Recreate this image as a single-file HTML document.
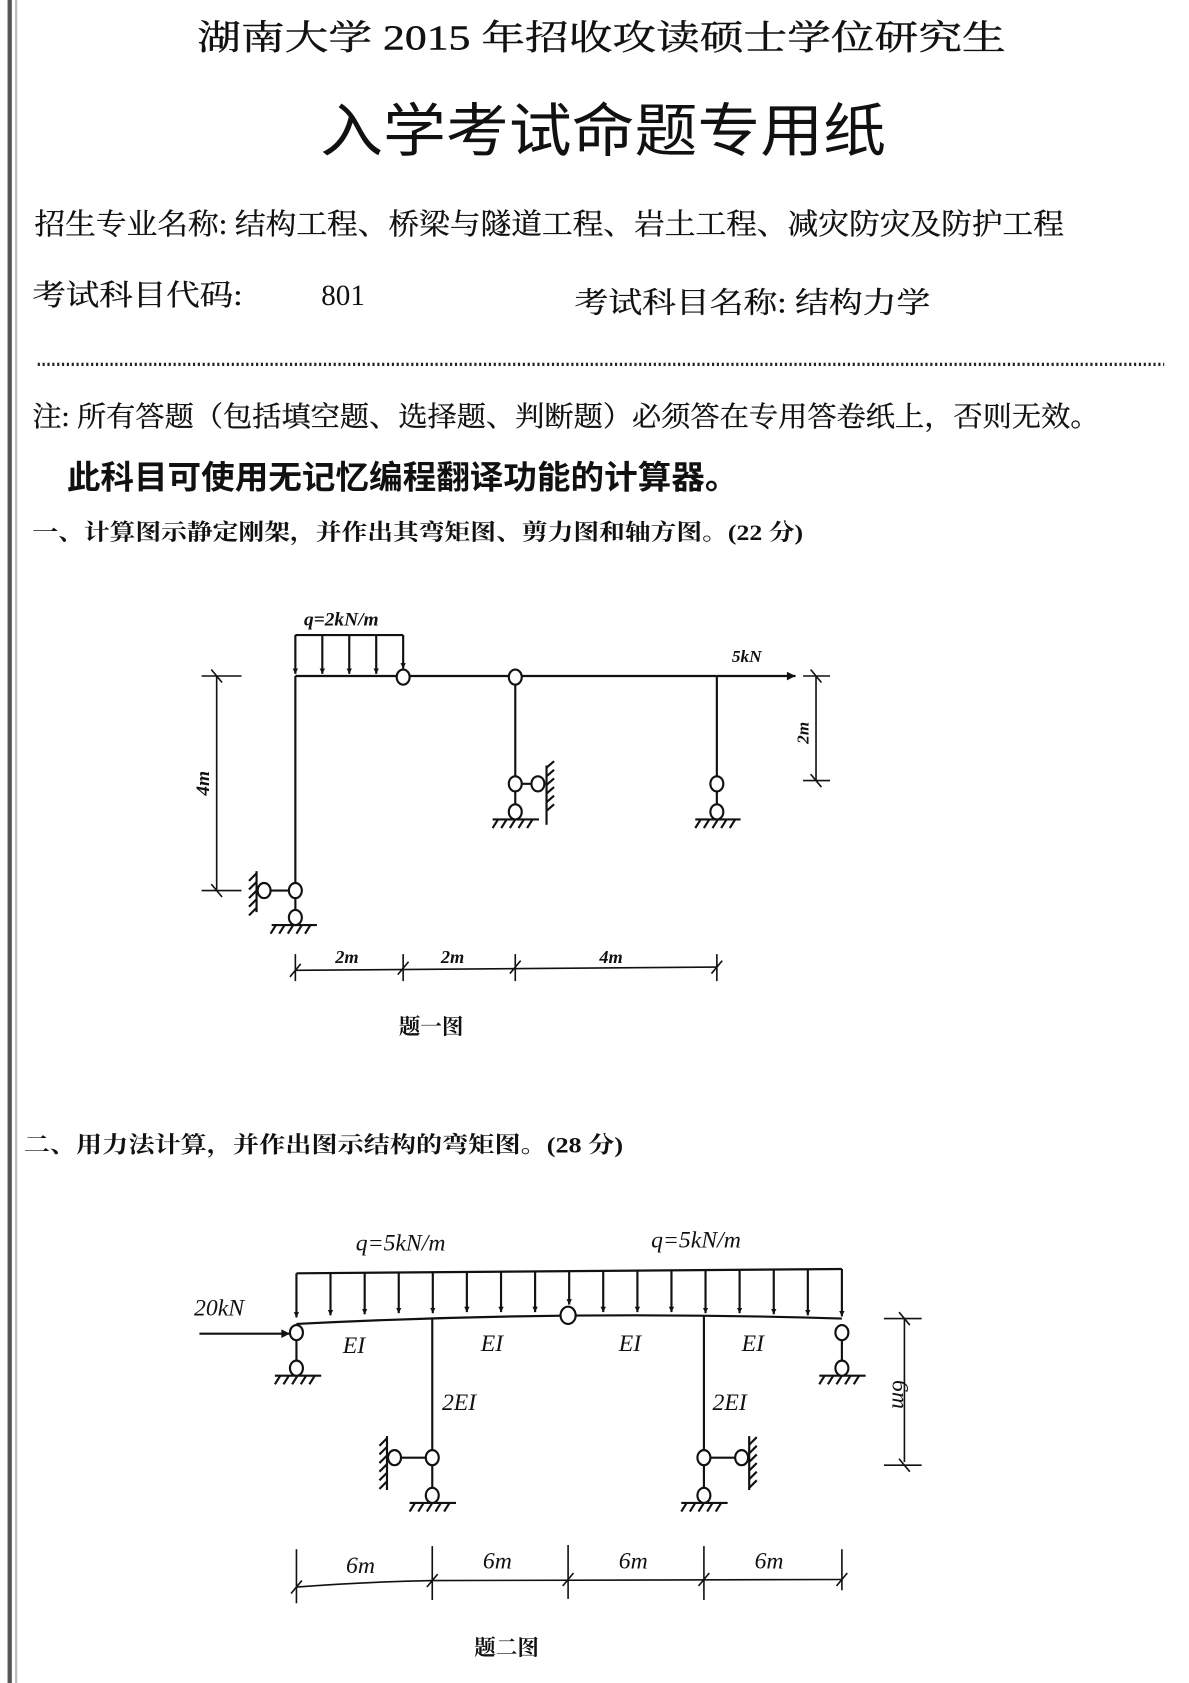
<!DOCTYPE html>
<html><head><meta charset="utf-8"><style>
html,body{margin:0;padding:0;background:#fff;}
svg{display:block;}
.cn{font-family:"Liberation Serif","Noto Serif CJK SC",serif;fill:#111;}
.cs{font-family:"Liberation Sans","Noto Sans CJK SC",sans-serif;fill:#111;}
.lb{font-family:"Liberation Serif",serif;font-style:italic;fill:#111;}
</style></head><body>
<svg width="1189" height="1683" viewBox="0 0 1103 1561" preserveAspectRatio="none" xmlns="http://www.w3.org/2000/svg">
<defs>
<marker id="ar" viewBox="0 0 10 10" refX="10" refY="5" markerWidth="5" markerHeight="8" orient="auto" markerUnits="userSpaceOnUse"><path d="M0,0 L10,5 L0,10 z" fill="#111"/></marker>
<marker id="ab" viewBox="0 0 10 10" refX="10" refY="5" markerWidth="14" markerHeight="8" orient="auto" markerUnits="userSpaceOnUse"><path d="M0,0 L10,5 L0,10 z" fill="#111"/></marker>
</defs>
<rect x="0" y="0" width="1103" height="1561" fill="#fff"/>
<line x1="9" y1="0" x2="9" y2="1561" stroke="#555" stroke-width="4"/>
<line x1="15" y1="0" x2="15" y2="1561" stroke="#bbb" stroke-width="2"/>

<text class="cn" x="183" y="46" font-size="32" textLength="750" lengthAdjust="spacingAndGlyphs" stroke="#111" stroke-width="0.4">湖南大学 2015 年招收攻读硕士学位研究生</text>
<text class="cs" x="297" y="140" font-size="54" textLength="525" lengthAdjust="spacingAndGlyphs">入学考试命题专用纸</text>
<text class="cn" x="32" y="217" font-size="27" textLength="955" lengthAdjust="spacingAndGlyphs" stroke="#111" stroke-width="0.3">招生专业名称: 结构工程、桥梁与隧道工程、岩土工程、减灾防灾及防护工程</text>
<text class="cn" x="30" y="283" font-size="27" textLength="195" lengthAdjust="spacingAndGlyphs" stroke="#111" stroke-width="0.3">考试科目代码:</text>
<text class="cn" x="298" y="283" font-size="27">801</text>
<text class="cn" x="533" y="290" font-size="27" textLength="330" lengthAdjust="spacingAndGlyphs" stroke="#111" stroke-width="0.3">考试科目名称: 结构力学</text>
<line x1="35" y1="338" x2="1080" y2="338" stroke="#222" stroke-width="3" stroke-dasharray="2,2.5"/>
<text class="cn" x="30" y="395" font-size="26" textLength="990" lengthAdjust="spacingAndGlyphs" stroke="#111" stroke-width="0.3">注: 所有答题（包括填空题、选择题、判断题）必须答在专用答卷纸上，否则无效。</text>
<text class="cs" x="62" y="453" font-size="30" font-weight="bold" textLength="623" lengthAdjust="spacingAndGlyphs">此科目可使用无记忆编程翻译功能的计算器。</text>
<text class="cn" x="30" y="501" font-size="21" font-weight="bold" textLength="715" lengthAdjust="spacingAndGlyphs">一、计算图示静定刚架，并作出其弯矩图、剪力图和轴方图。(22 分)</text>

<!-- Diagram 1 -->
<g stroke="#111" stroke-width="2" fill="none">
<line x1="274" y1="627" x2="665" y2="627"/>
<line x1="274" y1="627" x2="274" y2="819"/>
<line x1="478" y1="633" x2="478" y2="720"/>
<line x1="665" y1="627" x2="665" y2="720"/>
<line x1="274" y1="589" x2="374" y2="589"/>
<line x1="274" y1="589" x2="274" y2="625" marker-end="url(#ar)"/>
<line x1="299" y1="589" x2="299" y2="625" marker-end="url(#ar)"/>
<line x1="324" y1="589" x2="324" y2="625" marker-end="url(#ar)"/>
<line x1="349" y1="589" x2="349" y2="625" marker-end="url(#ar)"/>
<line x1="374" y1="589" x2="374" y2="620" marker-end="url(#ar)"/>
<line x1="665" y1="627" x2="738" y2="627" marker-end="url(#ab)"/>
<line x1="245" y1="826" x2="274" y2="826"/>
<line x1="274" y1="832" x2="274" y2="846"/>
<line x1="238" y1="808" x2="238" y2="846"/>
<path d="M238,810 l-7,7 M238,818 l-7,7 M238,826 l-7,7 M238,834 l-7,7 M238,842 l-7,7"/>
<line x1="252" y1="858" x2="294" y2="858"/>
<path d="M256,858 l-5,8 M264,858 l-5,8 M272,858 l-5,8 M280,858 l-5,8 M288,858 l-5,8"/>
<line x1="478" y1="727" x2="499" y2="727"/>
<line x1="478" y1="733" x2="478" y2="748"/>
<line x1="507" y1="710" x2="507" y2="765"/>
<path d="M507,712 l7,-6 M507,720 l7,-6 M507,728 l7,-6 M507,736 l7,-6 M507,744 l7,-6 M507,752 l7,-6"/>
<line x1="457" y1="760" x2="500" y2="760"/>
<path d="M462,760 l-5,8 M470,760 l-5,8 M478,760 l-5,8 M486,760 l-5,8 M494,760 l-5,8"/>
<line x1="665" y1="733" x2="665" y2="748"/>
<line x1="645" y1="760" x2="687" y2="760"/>
<path d="M650,760 l-5,8 M658,760 l-5,8 M666,760 l-5,8 M674,760 l-5,8 M682,760 l-5,8"/>
<line x1="201" y1="627" x2="201" y2="826" stroke-width="1.5"/>
<line x1="187" y1="627" x2="224" y2="627" stroke-width="1.5"/>
<line x1="187" y1="826" x2="224" y2="826" stroke-width="1.5"/>
<path d="M196,621 l10,12 M196,820 l10,12" stroke-width="1.5"/>
<line x1="757" y1="627" x2="757" y2="724" stroke-width="1.5"/>
<line x1="745" y1="627" x2="770" y2="627" stroke-width="1.5"/>
<line x1="745" y1="724" x2="770" y2="724" stroke-width="1.5"/>
<path d="M752,621 l10,12 M752,718 l10,12" stroke-width="1.5"/>
<line x1="274" y1="900" x2="665" y2="897" stroke-width="1.5"/>
<path d="M274,885 v25 M374,885 v25 M478,885 v25 M665,885 v25" stroke-width="1.5"/>
<path d="M269,906 l10,-12 M369,904 l10,-12 M473,903 l10,-12 M660,903 l10,-12" stroke-width="1.5"/>
</g>
<g stroke="#111" stroke-width="2" fill="#fff">
<ellipse cx="374" cy="628" rx="6" ry="7"/>
<ellipse cx="478" cy="628" rx="6" ry="7"/>
<ellipse cx="274" cy="826" rx="6" ry="7"/>
<ellipse cx="245" cy="826" rx="6" ry="7"/>
<ellipse cx="274" cy="851" rx="6" ry="7"/>
<ellipse cx="478" cy="727" rx="6" ry="7"/>
<ellipse cx="499" cy="727" rx="6" ry="7"/>
<ellipse cx="478" cy="753" rx="6" ry="7"/>
<ellipse cx="665" cy="727" rx="6" ry="7"/>
<ellipse cx="665" cy="753" rx="6" ry="7"/>
</g>
<text class="lb" x="282" y="580" font-size="18" font-weight="bold">q=2kN/m</text>
<text class="lb" x="679" y="614" font-size="16" font-weight="bold">5kN</text>
<text class="lb" x="0" y="0" font-size="18" font-weight="bold" transform="translate(194,738) rotate(-90)">4m</text>
<text class="lb" x="0" y="0" font-size="16" font-weight="bold" transform="translate(750,690) rotate(-90)">2m</text>
<text class="lb" x="311" y="893" font-size="17" font-weight="bold">2m</text>
<text class="lb" x="409" y="893" font-size="17" font-weight="bold">2m</text>
<text class="lb" x="556" y="893" font-size="17" font-weight="bold">4m</text>
<text class="cn" x="370" y="959" font-size="20" font-weight="bold">题一图</text>

<text class="cn" x="22" y="1069" font-size="21" font-weight="bold" textLength="556" lengthAdjust="spacingAndGlyphs">二、用力法计算，并作出图示结构的弯矩图。(28 分)</text>

<!-- Diagram 2 -->
<g stroke="#111" stroke-width="2" fill="none">
<path d="M275,1228 Q528,1215 781,1223"/>
<line x1="275" y1="1181" x2="781" y2="1177"/>
<line x1="401" y1="1222" x2="401" y2="1345"/>
<line x1="653" y1="1221" x2="653" y2="1345"/>
<line x1="185" y1="1237" x2="269" y2="1237" marker-end="url(#ab)"/>
<line x1="275" y1="1242" x2="275" y2="1262"/>
<line x1="781" y1="1243" x2="781" y2="1262"/>
<line x1="255" y1="1276" x2="298" y2="1276"/>
<path d="M260,1276 l-5,8 M268,1276 l-5,8 M276,1276 l-5,8 M284,1276 l-5,8 M292,1276 l-5,8"/>
<line x1="760" y1="1276" x2="803" y2="1276"/>
<path d="M765,1276 l-5,8 M773,1276 l-5,8 M781,1276 l-5,8 M789,1276 l-5,8 M797,1276 l-5,8"/>
<line x1="366" y1="1352" x2="401" y2="1352"/>
<line x1="401" y1="1359" x2="401" y2="1380"/>
<line x1="359" y1="1332" x2="359" y2="1382"/>
<path d="M359,1334 l-7,7 M359,1342 l-7,7 M359,1350 l-7,7 M359,1358 l-7,7 M359,1366 l-7,7 M359,1374 l-7,7"/>
<line x1="380" y1="1394" x2="423" y2="1394"/>
<path d="M385,1394 l-5,8 M393,1394 l-5,8 M401,1394 l-5,8 M409,1394 l-5,8 M417,1394 l-5,8"/>
<line x1="653" y1="1352" x2="688" y2="1352"/>
<line x1="653" y1="1359" x2="653" y2="1380"/>
<line x1="695" y1="1332" x2="695" y2="1382"/>
<path d="M695,1340 l7,-7 M695,1348 l7,-7 M695,1356 l7,-7 M695,1364 l7,-7 M695,1372 l7,-7 M695,1380 l7,-7"/>
<line x1="632" y1="1394" x2="675" y2="1394"/>
<path d="M637,1394 l-5,8 M645,1394 l-5,8 M653,1394 l-5,8 M661,1394 l-5,8 M669,1394 l-5,8"/>
<line x1="839" y1="1223" x2="839" y2="1356" stroke-width="1.5"/>
<line x1="820" y1="1223" x2="855" y2="1223" stroke-width="1.5"/>
<line x1="820" y1="1359" x2="855" y2="1359" stroke-width="1.5"/>
<path d="M834,1217 l10,12 M834,1353 l10,12" stroke-width="1.5"/>
<path d="M275,1472 Q340,1467 401,1466 L781,1465" stroke-width="1.5"/>
<path d="M275,1437 v50 M401,1434 v50 M527,1433 v50 M653,1434 v50 M781,1437 v38" stroke-width="1.5"/>
<path d="M270,1478 l10,-12 M396,1472 l10,-12 M522,1471 l10,-12 M648,1471 l10,-12 M776,1471 l10,-12" stroke-width="1.5"/>
</g>
<g stroke="#111" stroke-width="2">
<line x1="275" y1="1181" x2="275" y2="1222" marker-end="url(#ar)"/>
<line x1="306.6" y1="1181" x2="306.6" y2="1220" marker-end="url(#ar)"/>
<line x1="338.3" y1="1180" x2="338.3" y2="1219" marker-end="url(#ar)"/>
<line x1="369.9" y1="1180" x2="369.9" y2="1218" marker-end="url(#ar)"/>
<line x1="401.5" y1="1180" x2="401.5" y2="1218" marker-end="url(#ar)"/>
<line x1="433.1" y1="1180" x2="433.1" y2="1217" marker-end="url(#ar)"/>
<line x1="464.8" y1="1180" x2="464.8" y2="1217" marker-end="url(#ar)"/>
<line x1="496.4" y1="1179" x2="496.4" y2="1217" marker-end="url(#ar)"/>
<line x1="528" y1="1179" x2="528" y2="1210" marker-end="url(#ar)"/>
<line x1="559.6" y1="1179" x2="559.6" y2="1217" marker-end="url(#ar)"/>
<line x1="591.3" y1="1179" x2="591.3" y2="1217" marker-end="url(#ar)"/>
<line x1="622.9" y1="1178" x2="622.9" y2="1217" marker-end="url(#ar)"/>
<line x1="654.5" y1="1178" x2="654.5" y2="1218" marker-end="url(#ar)"/>
<line x1="686.1" y1="1178" x2="686.1" y2="1218" marker-end="url(#ar)"/>
<line x1="717.8" y1="1177" x2="717.8" y2="1219" marker-end="url(#ar)"/>
<line x1="749.4" y1="1177" x2="749.4" y2="1220" marker-end="url(#ar)"/>
<line x1="781" y1="1177" x2="781" y2="1221" marker-end="url(#ar)"/>
</g>
<g stroke="#111" stroke-width="2" fill="#fff">
<ellipse cx="527" cy="1220" rx="7" ry="8"/>
<ellipse cx="275" cy="1236" rx="6" ry="7"/>
<ellipse cx="781" cy="1236" rx="6" ry="7"/>
<ellipse cx="275" cy="1269" rx="6" ry="7"/>
<ellipse cx="781" cy="1269" rx="6" ry="7"/>
<ellipse cx="401" cy="1352" rx="6" ry="7"/>
<ellipse cx="366" cy="1352" rx="6" ry="7"/>
<ellipse cx="401" cy="1387" rx="6" ry="7"/>
<ellipse cx="653" cy="1352" rx="6" ry="7"/>
<ellipse cx="688" cy="1352" rx="6" ry="7"/>
<ellipse cx="653" cy="1387" rx="6" ry="7"/>
</g>
<text class="lb" x="330" y="1160" font-size="22">q=5kN/m</text>
<text class="lb" x="604" y="1157" font-size="22">q=5kN/m</text>
<text class="lb" x="180" y="1220" font-size="22">20kN</text>
<text class="lb" x="318" y="1255" font-size="22">EI</text>
<text class="lb" x="446" y="1253" font-size="22">EI</text>
<text class="lb" x="574" y="1253" font-size="22">EI</text>
<text class="lb" x="688" y="1253" font-size="22">EI</text>
<text class="lb" x="410" y="1308" font-size="22">2EI</text>
<text class="lb" x="661" y="1308" font-size="22">2EI</text>
<text class="lb" x="0" y="0" font-size="22" transform="translate(828,1280) rotate(90)">6m</text>
<text class="lb" x="321" y="1459" font-size="22">6m</text>
<text class="lb" x="448" y="1455" font-size="22">6m</text>
<text class="lb" x="574" y="1455" font-size="22">6m</text>
<text class="lb" x="700" y="1455" font-size="22">6m</text>
<text class="cn" x="440" y="1535" font-size="20" font-weight="bold">题二图</text>
</svg>
</body></html>
